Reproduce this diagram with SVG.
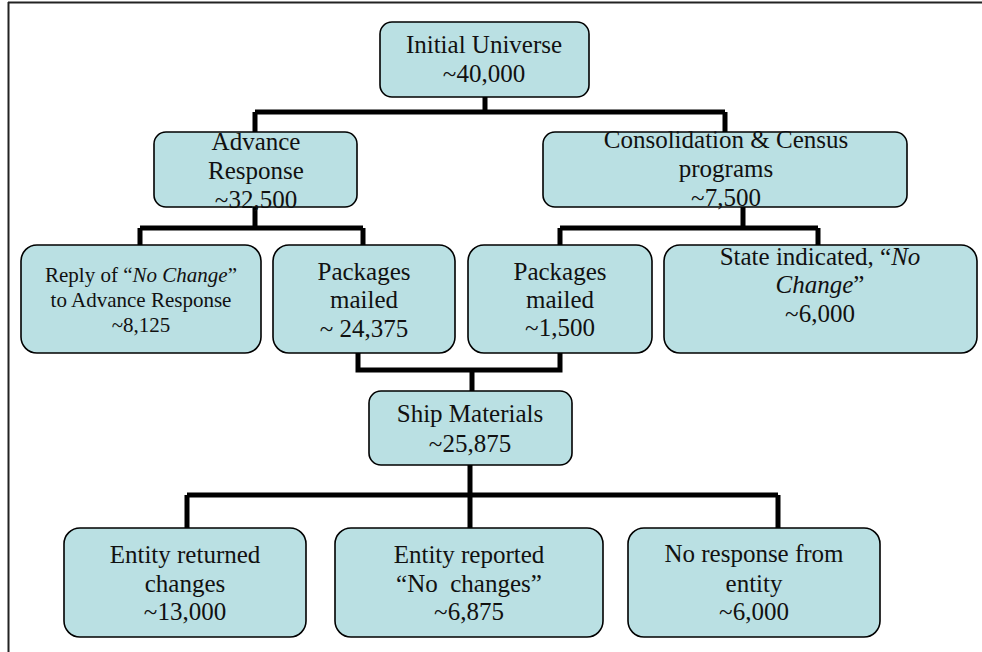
<svg xmlns="http://www.w3.org/2000/svg" width="982" height="652" viewBox="0 0 982 652">
<style>
.box{fill:#bae0e3;stroke:#000;stroke-width:1.6}
.t{font-family:"Liberation Serif","Times New Roman",serif;font-size:25px;fill:#111;text-anchor:middle}
.s{font-size:21px}
.c{fill:none;stroke:#000;stroke-width:5}
.f{stroke:#222;stroke-width:2;fill:none}
</style>
<rect width="982" height="652" fill="#fff"/>
<g id="frame">
<line class="f" x1="8" y1="2.5" x2="982" y2="2.5"/>
<line class="f" x1="8.5" y1="2" x2="8.5" y2="652"/>
</g>
<g id="connectors">
<path class="c" d="M485 97V112M255 112H725M255 112V132M725 112V132"/>
<path class="c" d="M255 207V228M140 228H363M140 228V245M363 228V245"/>
<path class="c" d="M743 207V228M560 228H818M560 228V245M818 228V245"/>
<path class="c" d="M358 353V370H560V353M472 370V391"/>
<path class="c" d="M470 465V495M187 495H778M187 495V528M470 495V528M778 495V528"/>
</g>
<g id="initial">
<rect class="box" x="380" y="22" width="209" height="75" rx="12"/>
<text class="t" x="484" y="53">Initial Universe</text>
<text class="t" x="484" y="82">~40,000</text>
</g>
<g id="advance">
<rect class="box" x="154" y="132" width="203" height="75" rx="12"/>
<text class="t" x="256" y="150">Advance</text>
<text class="t" x="256" y="179">Response</text>
<text class="t" x="256" y="208">~32,500</text>
</g>
<g id="consolidation">
<rect class="box" x="543" y="132" width="364" height="75" rx="12"/>
<text class="t" x="726" y="148">Consolidation &amp; Census</text>
<text class="t" x="726" y="177">programs</text>
<text class="t" x="726" y="206">~7,500</text>
</g>
<g id="reply">
<rect class="box" x="21" y="245" width="240" height="108" rx="16"/>
<text class="t s" x="141" y="282">Reply of “<tspan font-style="italic">No Change</tspan>”</text>
<text class="t s" x="141" y="307">to Advance Response</text>
<text class="t s" x="141" y="332">~8,125</text>
</g>
<g id="packages1">
<rect class="box" x="273" y="245" width="182" height="108" rx="16"/>
<text class="t" x="364" y="280">Packages</text>
<text class="t" x="364" y="308">mailed</text>
<text class="t" x="364" y="337">~ 24,375</text>
</g>
<g id="packages2">
<rect class="box" x="468" y="245" width="184" height="108" rx="16"/>
<text class="t" x="560" y="280">Packages</text>
<text class="t" x="560" y="308">mailed</text>
<text class="t" x="560" y="336">~1,500</text>
</g>
<g id="state">
<rect class="box" x="664" y="245" width="313" height="108" rx="16"/>
<text class="t" x="820" y="265">State indicated, “<tspan font-style="italic">No</tspan></text>
<text class="t" x="820" y="293"><tspan font-style="italic">Change</tspan>”</text>
<text class="t" x="820" y="322">~6,000</text>
</g>
<g id="ship">
<rect class="box" x="369" y="391" width="203" height="74" rx="12"/>
<text class="t" x="470" y="422">Ship Materials</text>
<text class="t" x="470" y="452">~25,875</text>
</g>
<g id="returned">
<rect class="box" x="64" y="528" width="242" height="109" rx="16"/>
<text class="t" x="185" y="563">Entity returned</text>
<text class="t" x="185" y="592">changes</text>
<text class="t" x="185" y="620">~13,000</text>
</g>
<g id="reported">
<rect class="box" x="335" y="528" width="268" height="109" rx="16"/>
<text class="t" x="469" y="563">Entity reported</text>
<text class="t" x="469" y="592" xml:space="preserve">“No  changes”</text>
<text class="t" x="469" y="620">~6,875</text>
</g>
<g id="noresponse">
<rect class="box" x="628" y="528" width="252" height="109" rx="16"/>
<text class="t" x="754" y="562">No response from</text>
<text class="t" x="754" y="592">entity</text>
<text class="t" x="754" y="620">~6,000</text>
</g>
</svg>
